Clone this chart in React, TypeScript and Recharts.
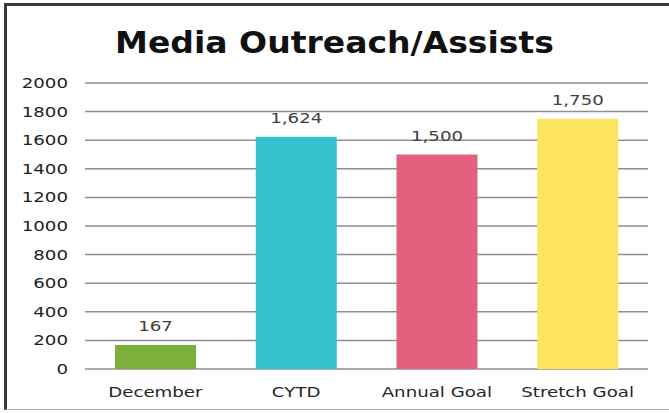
import React from 'react';
import { BarChart, Bar, XAxis, YAxis, CartesianGrid, Cell, LabelList } from 'recharts';

const categories = ['December', 'CYTD', 'Annual Goal', 'Stretch Goal'];
const values = [167, 1624, 1500, 1750];
const yTicks = [0, 200, 400, 600, 800, 1000, 1200, 1400, 1600, 1800, 2000];
const title = 'Media Outreach/Assists';

const barColors = ['#7bb13b', '#38c1ce', '#e3617f', '#fee561'];

const data = categories.map((name, i) => ({ name, value: values[i] }));

const FONT = '"DejaVu Sans", sans-serif';
const STRETCH = 1.3;

const YTick = (props: any) => {
  const { x, y, payload } = props;
  return (
    <g transform={`translate(${x},${y})`}>
      <text
        transform={`scale(${STRETCH},1)`}
        textAnchor="end"
        dy={5}
        fontFamily={FONT}
        fontSize={14}
        fill="#1e1e1e"
      >
        {payload.value}
      </text>
    </g>
  );
};

const XTick = (props: any) => {
  const { x, y, payload } = props;
  return (
    <g transform={`translate(${x},${y})`}>
      <text
        transform={`scale(${STRETCH},1)`}
        textAnchor="middle"
        fontFamily={FONT}
        fontSize={14}
        fill="#262626"
      >
        {payload.value}
      </text>
    </g>
  );
};

const ValueLabel = (props: any) => {
  const { x, y, width, value } = props;
  const cx = Number(x) + Number(width) / 2;
  const by = Number(y) - 14;
  return (
    <g transform={`translate(${cx},${by})`}>
      <text
        transform={`scale(${STRETCH},1)`}
        textAnchor="middle"
        fontFamily={FONT}
        fontSize={14}
        fill="#404040"
      >
        {Number(value).toLocaleString('en-US')}
      </text>
    </g>
  );
};

export default function App() {
  return (
    <div
      style={{
        position: 'absolute',
        left: 0,
        top: 0,
        width: 669,
        height: 413,
        background: '#ffffff',
        overflow: 'hidden',
      }}
    >
      <div
        style={{
          position: 'absolute',
          left: 4,
          top: 3,
          width: 700,
          height: 407,
          borderLeft: '3px solid #3a3a3a',
          borderTop: '3px solid #3a3a3a',
          borderBottom: '1.5px solid #b0b0b0',
          boxSizing: 'border-box',
        }}
      />
      <svg
        width={669}
        height={80}
        style={{ position: 'absolute', left: 0, top: 0, pointerEvents: 'none' }}
      >
        <text
          x={334.5}
          y={53}
          textAnchor="middle"
          fontFamily={FONT}
          fontWeight="bold"
          fontSize={30}
          fill="#111111"
          textLength={439}
          lengthAdjust="spacingAndGlyphs"
        >
          {title}
        </text>
      </svg>
      <div style={{ position: 'absolute', left: 0, top: 0 }}>
        <BarChart
          width={669}
          height={413}
          data={data}
          margin={{ top: 83, right: 21, bottom: 0, left: 0 }}
        >
          <CartesianGrid vertical={false} stroke="#8f8f8f" strokeWidth={1.5} />
          <XAxis
            dataKey="name"
            axisLine={false}
            tickLine={false}
            tickSize={0}
            tickMargin={28}
            height={44}
            interval={0}
            tick={<XTick />}
          />
          <YAxis
            domain={[0, 2000]}
            ticks={yTicks}
            axisLine={false}
            tickLine={false}
            tickSize={0}
            tickMargin={17}
            width={85}
            interval={0}
            tick={<YTick />}
          />
          <Bar dataKey="value" barSize={81} isAnimationActive={false}>
            {data.map((d, i) => (
              <Cell key={d.name} fill={barColors[i]} />
            ))}
            <LabelList dataKey="value" content={<ValueLabel />} />
          </Bar>
        </BarChart>
      </div>
    </div>
  );
}
